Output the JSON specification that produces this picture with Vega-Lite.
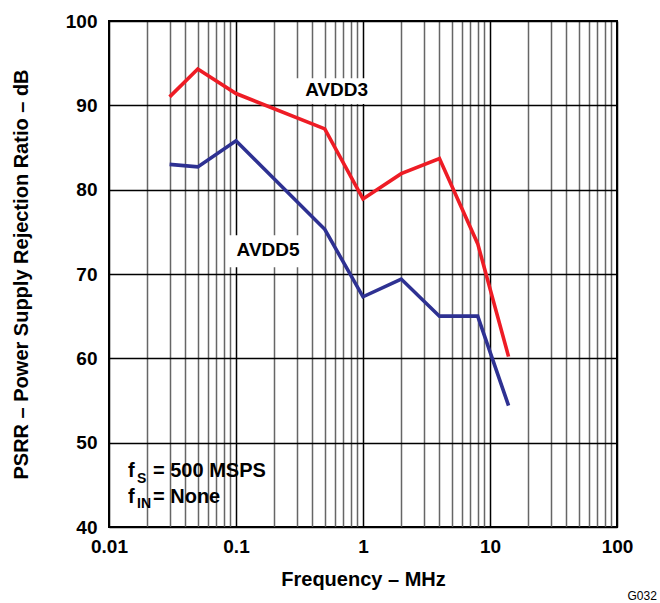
{
  "$schema": "https://vega.github.io/schema/vega-lite/v6.json",
  "width": 508,
  "height": 506,
  "autosize": "none",
  "padding": {"left": 109, "top": 21, "right": 43, "bottom": 76},
  "background": "white",
  "config": {
    "font": "Liberation Sans",
    "view": {"stroke": "black", "strokeWidth": 2},
    "axis": {
      "domain": false,
      "ticks": false,
      "labelFont": "Liberation Sans",
      "labelFontWeight": "bold",
      "labelFontSize": 19,
      "labelColor": "black",
      "titleFont": "Liberation Sans",
      "titleFontWeight": "bold",
      "titleFontSize": 20,
      "titleColor": "black",
      "gridOpacity": 1
    }
  },
  "datasets": {
    "psrr": [
      {"freq": 0.03, "db": 91.0, "supply": "AVDD3"},
      {"freq": 0.05, "db": 94.3, "supply": "AVDD3"},
      {"freq": 0.1, "db": 91.4, "supply": "AVDD3"},
      {"freq": 0.5, "db": 87.2, "supply": "AVDD3"},
      {"freq": 1, "db": 78.9, "supply": "AVDD3"},
      {"freq": 2, "db": 81.9, "supply": "AVDD3"},
      {"freq": 4, "db": 83.7, "supply": "AVDD3"},
      {"freq": 8, "db": 73.6, "supply": "AVDD3"},
      {"freq": 14, "db": 60.2, "supply": "AVDD3"},
      {"freq": 0.03, "db": 83.0, "supply": "AVDD5"},
      {"freq": 0.05, "db": 82.7, "supply": "AVDD5"},
      {"freq": 0.1, "db": 85.8, "supply": "AVDD5"},
      {"freq": 0.5, "db": 75.3, "supply": "AVDD5"},
      {"freq": 1, "db": 67.3, "supply": "AVDD5"},
      {"freq": 2, "db": 69.4, "supply": "AVDD5"},
      {"freq": 4, "db": 65.0, "supply": "AVDD5"},
      {"freq": 8, "db": 65.0, "supply": "AVDD5"},
      {"freq": 14, "db": 54.4, "supply": "AVDD5"}
    ],
    "boxes": [
      {"freq": 0.276, "freq2": 1.36, "db": 93.2, "db2": 90.15},
      {"freq": 0.085, "freq2": 0.362, "db": 74.6, "db2": 70.8}
    ],
    "labels": [
      {"freq": 0.62, "db": 91.8, "label": "AVDD3"},
      {"freq": 0.179, "db": 72.8, "label": "AVDD5"}
    ],
    "noteMain": [
      {"freq": 0.01411, "db": 45.93, "label": "f"},
      {"freq": 0.0222, "db": 45.93, "label": "= 500 MSPS"},
      {"freq": 0.01411, "db": 42.84, "label": "f"},
      {"freq": 0.0222, "db": 42.84, "label": "= None"}
    ],
    "noteSub": [
      {"freq": 0.01662, "db": 45.22, "label": "S"},
      {"freq": 0.01662, "db": 42.25, "label": "IN"}
    ],
    "code": [
      {"freq": 206, "db": 31.4, "label": "G032"}
    ]
  },
  "encoding": {
    "x": {
      "field": "freq",
      "type": "quantitative",
      "scale": {"type": "log", "domain": [0.01, 100], "nice": false},
      "axis": {
        "title": "Frequency – MHz",
        "values": [0.01, 0.02, 0.03, 0.04, 0.05, 0.06, 0.07, 0.08, 0.09, 0.1, 0.2, 0.3, 0.4, 0.5, 0.6, 0.7, 0.8, 0.9, 1, 2, 3, 4, 5, 6, 7, 8, 9, 10, 20, 30, 40, 50, 60, 70, 80, 90, 100],
        "format": "~g",
        "labelExpr": "(datum.value == 0.01 || datum.value == 0.1 || datum.value == 1 || datum.value == 10 || datum.value == 100) ? datum.label : ''",
        "labelPadding": 10,
        "labelFlush": false,
        "labelOverlap": false,
        "titlePadding": 13,
        "gridColor": {
          "condition": {"test": "datum.value == 0.01 || datum.value == 0.1 || datum.value == 1 || datum.value == 10 || datum.value == 100", "value": "black"},
          "value": "#666666"
        },
        "gridWidth": 1.5
      }
    },
    "y": {
      "field": "db",
      "type": "quantitative",
      "scale": {"domain": [40, 100], "nice": false},
      "axis": {
        "title": "PSRR – Power Supply Rejection Ratio – dB",
        "values": [40, 50, 60, 70, 80, 90, 100],
        "labelPadding": 12,
        "titlePadding": 34,
        "gridColor": "black",
        "gridWidth": 1.3
      }
    }
  },
  "layer": [
    {
      "data": {"name": "boxes"},
      "mark": {"type": "rect", "fill": "white"},
      "encoding": {
        "x2": {"field": "freq2"},
        "y2": {"field": "db2"}
      }
    },
    {
      "data": {"name": "psrr"},
      "mark": {"type": "line", "strokeWidth": 3.6, "strokeJoin": "miter"},
      "encoding": {
        "color": {
          "field": "supply",
          "type": "nominal",
          "scale": {"domain": ["AVDD3", "AVDD5"], "range": ["#ee1c25", "#2e3192"]},
          "legend": null
        }
      }
    },
    {
      "data": {"name": "labels"},
      "mark": {"type": "text", "font": "Liberation Sans", "fontWeight": "bold", "fontSize": 19, "align": "center", "baseline": "middle", "color": "black"},
      "encoding": {"text": {"field": "label"}}
    },
    {
      "data": {"name": "noteMain"},
      "mark": {"type": "text", "font": "Liberation Sans", "fontWeight": "bold", "fontSize": 20, "align": "left", "baseline": "alphabetic", "color": "black"},
      "encoding": {"text": {"field": "label"}}
    },
    {
      "data": {"name": "noteSub"},
      "mark": {"type": "text", "font": "Liberation Sans", "fontWeight": "bold", "fontSize": 14, "align": "left", "baseline": "alphabetic", "color": "black"},
      "encoding": {"text": {"field": "label"}}
    },
    {
      "data": {"name": "code"},
      "mark": {"type": "text", "font": "Liberation Sans", "fontSize": 12, "align": "right", "baseline": "alphabetic", "color": "black"},
      "encoding": {"text": {"field": "label"}}
    }
  ]
}
